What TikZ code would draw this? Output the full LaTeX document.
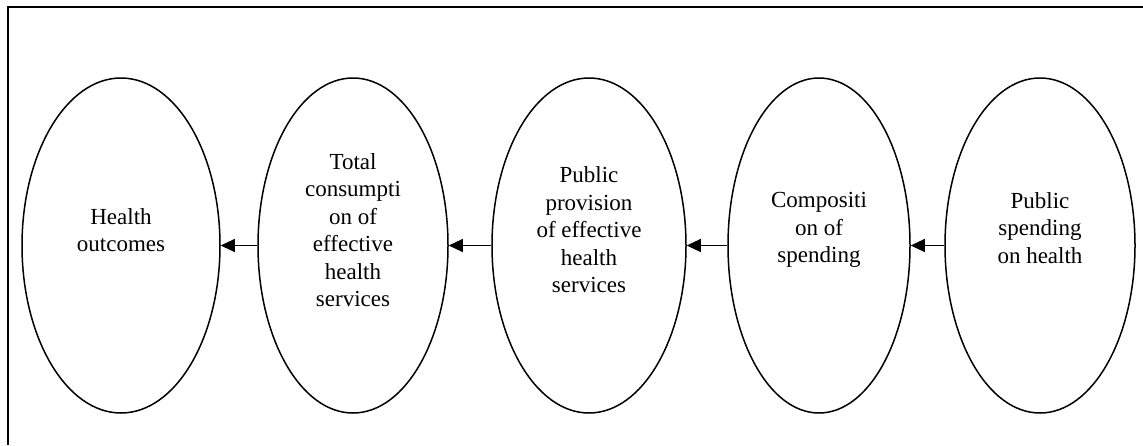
\documentclass[tikz,border=0pt]{standalone}
\usepackage{fontspec}
\setmainfont{Liberation Serif}
\usetikzlibrary{shapes.geometric,arrows.meta}
\begin{document}
\begin{tikzpicture}[x=1pt,y=-1pt,
  oval/.style={draw,ellipse,line width=1.5pt,minimum height=335pt,inner sep=0pt},
  lbl/.style={align=center,font=\fontsize{23}{27.5}\selectfont,inner sep=0pt},
  link/.style={-{Triangle[length=14pt,width=13pt]},line width=1.1pt}]
\useasboundingbox (0,0) rectangle (1143,445);
\coordinate (tl) at (8,7);
\coordinate (tr) at (1143,7);
\coordinate (bl) at (8,445);
\draw[line width=1.6pt] (bl) -- (tl) -- (tr);

\node[oval,minimum width=198pt] (e1) at (121,245.5) {};
\node[oval,minimum width=190pt] (e2) at (353,245.5) {};
\node[oval,minimum width=194pt] (e3) at (589,245.5) {};
\node[oval,minimum width=182pt] (e4) at (819,245.5) {};
\node[oval,minimum width=190pt] (e5) at (1040,245.5) {};

\node[lbl] (t1) at (121,230) {Health\\outcomes};
\node[lbl] (t2) at (353,230) {Total\\consumpti\\on of\\effective\\health\\services};
\node[lbl] (t3) at (589,230) {Public\\provision\\of effective\\health\\services};
\node[lbl] (t4) at (819,230) {Compositi\\on of\\spending};
\node[lbl] (t5) at (1040,228) {Public\\spending\\on health};

\draw[link] (e2.west) -- (e1.east);
\draw[link] (e3.west) -- (e2.east);
\draw[link] (e4.west) -- (e3.east);
\draw[link] (e5.west) -- (e4.east);
\end{tikzpicture}
\end{document}
